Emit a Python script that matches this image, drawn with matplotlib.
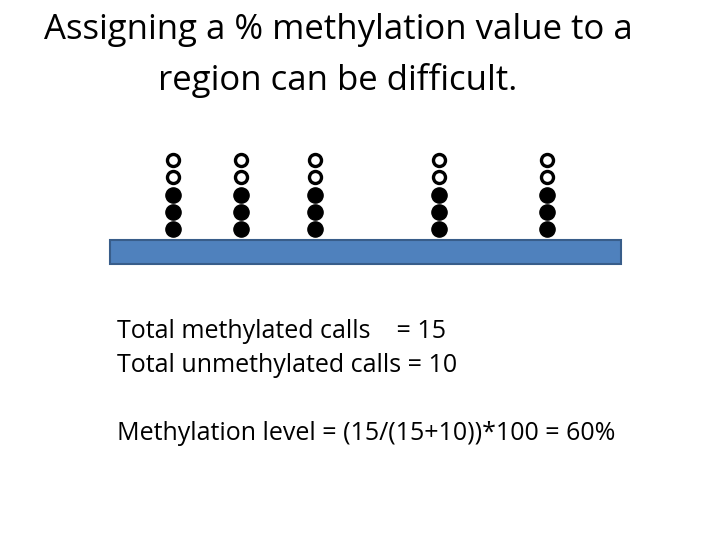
import matplotlib
matplotlib.use("Agg")
import matplotlib.pyplot as plt
from matplotlib.patches import Rectangle

# data
site_positions = [173, 241, 315, 439, 547]
methylated_calls = [3, 3, 3, 3, 3]
unmethylated_calls = [2, 2, 2, 2, 2]
total_m = sum(methylated_calls)
total_u = sum(unmethylated_calls)

fig = plt.figure(figsize=(7.2, 5.4), dpi=100)
ax = fig.add_axes([0, 0, 1, 1])
ax.set_xlim(0, 720)
ax.set_ylim(540, 0)
ax.axis("off")

font = "Open Sans"
ax.text(338, 30, "Assigning a % methylation value to a", ha="center", va="center", fontsize=25, family=font)
ax.text(338, 80, "region can be difficult.", ha="center", va="center", fontsize=25, family=font)

y0, dy = 160, 17.3
for x, m, u in zip(site_positions, methylated_calls, unmethylated_calls):
    ys_open = [y0 + i * dy for i in range(u)]
    ys_fill = [y0 + (u + i) * dy for i in range(m)]
    ax.scatter([x] * u, ys_open, s=75, facecolors="white", edgecolors="black", linewidths=2.4, zorder=3)
    ax.scatter([x] * m, ys_fill, s=120, facecolors="black", edgecolors="black", zorder=3)

ax.add_patch(Rectangle((110, 240), 511, 24, facecolor="#4F81BD", edgecolor="#385D8A", linewidth=1.5))

ax.text(117, 331, f"Total methylated calls    = {total_m}", va="center", fontsize=18, family=font)
ax.text(117, 366, f"Total unmethylated calls = {total_u}", va="center", fontsize=18, family=font)
ax.text(117, 433, f"Methylation level = ({total_m}/({total_m}+{total_u}))*100 = {round(total_m/(total_m+total_u)*100)}%",
        va="center", fontsize=18, family=font)

fig.savefig("out.png", dpi=100)
